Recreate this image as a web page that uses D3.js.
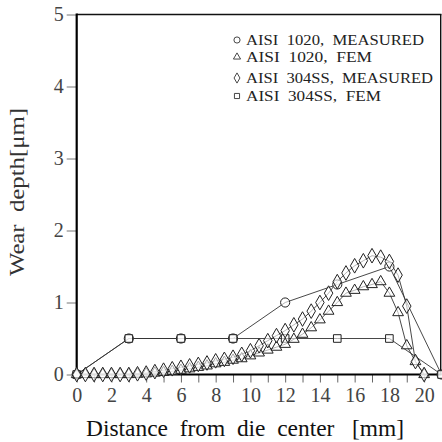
<!DOCTYPE html>
<html><head><meta charset="utf-8">
<script src="https://cdn.jsdelivr.net/npm/d3@7"></script>
<style>body{margin:0;background:#fff}svg{display:block}</style>
</head><body>
<script>
// ---- data ----
const xTicks = d3.range(0, 21, 1);
const xLabels = [0,2,4,6,8,10,12,14,16,18,20];
const yTicks = [0,1,2,3,4,5];

const sqX = [0,3,6,9,12,15,18,21];
const sqY = [0,0.5,0.5,0.5,0.5,0.5,0.5,0];

const ciX = [0,3,6,9,12,15,18,21];
const ciY = [0,0.5,0.5,0.5,1.0,1.25,1.5,0];

const fineX = [0,0.5,1,1.5,2,2.5,3,3.5,4,4.5,5,5.5,6,6.5,7,7.5,8,8.5,9,9.5,10,10.5,11,11.5,12,12.5,13,13.5,14,14.5,15,15.5,16,16.5,17,17.5,18,18.5,19,19.5,20];
const triY = [0,0,0,0,0,0,0,0.005,0.01,0.02,0.03,0.045,0.06,0.08,0.1,0.12,0.15,0.17,0.2,0.22,0.26,0.3,0.34,0.38,0.42,0.49,0.56,0.65,0.76,0.88,1.0,1.13,1.17,1.22,1.25,1.29,1.13,0.86,0.40,0.18,0];
const diaY = [0,0,0,0,0,0,0,0.01,0.02,0.04,0.06,0.08,0.1,0.12,0.14,0.16,0.19,0.21,0.24,0.28,0.33,0.4,0.47,0.54,0.61,0.69,0.77,0.88,1.0,1.13,1.29,1.41,1.51,1.58,1.65,1.63,1.57,1.38,0.95,0.18,0];

const legendLabels = ["AISI  1020,  MEASURED","AISI  1020,  FEM","AISI  304SS,  MEASURED","AISI  304SS,  FEM"];
const legendShapes = ["circle","triangle","diamond","square"];

// ---- chart ----
const W = 442, H = 442;
const svg = d3.select("body").append("svg").attr("width", W).attr("height", H);
const x = d3.scaleLinear().domain([0,21]).range([76.7, 441.5]);
const y = d3.scaleLinear().domain([0,5]).range([374.5, 14.5]);

const serif = "'Liberation Serif', 'Times New Roman', serif";

// frame top / right
svg.append("line").attr("x1", x(0)).attr("x2", x(21)).attr("y1", y(5)).attr("y2", y(5)).attr("stroke","#111").attr("stroke-width",1.6);
svg.append("line").attr("x1", x(21)-0.8).attr("x2", x(21)-0.8).attr("y1", y(5)).attr("y2", y(0)).attr("stroke","#111").attr("stroke-width",1.4);

// x axis
const xa = svg.append("g").attr("transform", `translate(0,${y(0)})`)
  .call(d3.axisBottom(x).tickValues(xTicks).tickSize(8).tickPadding(5)
    .tickFormat(d => xLabels.includes(d) ? d : ""));
xa.attr("font-family", null).attr("font-size", null);
xa.select(".domain").remove();
xa.selectAll(".tick line").attr("stroke","#666").attr("stroke-width",1);
xa.selectAll(".tick text").style("font-family", serif).style("font-size", "20px").attr("fill","#444");

// y axis
const ya = svg.append("g").attr("transform", `translate(${x(0)},0)`)
  .call(d3.axisLeft(y).tickValues(yTicks).tickSize(10).tickPadding(3).tickFormat(d3.format("d")));
ya.attr("font-family", null).attr("font-size", null);
ya.select(".domain").remove();
ya.selectAll(".tick line").attr("stroke","#777").attr("stroke-width",1);
ya.selectAll(".tick text").style("font-family", serif).style("font-size", "20px").attr("fill","#444");

// main axis lines
svg.append("line").attr("x1", x(0)).attr("x2", x(0)).attr("y1", y(5)-1).attr("y2", y(0)).attr("stroke","#000").attr("stroke-width",2.2);
svg.append("line").attr("x1", x(0)).attr("x2", x(21)).attr("y1", y(0)).attr("y2", y(0)).attr("stroke","#000").attr("stroke-width",2);

// shapes
const symType = {circle:d3.symbolCircle, triangle:d3.symbolTriangle, diamond:d3.symbolDiamond, square:d3.symbolSquare};
const sym = {
  circle: d3.symbol().type(d3.symbolCircle).size(66),
  triangle: d3.symbol().type(d3.symbolTriangle).size(50),
  diamond: d3.symbol().type(d3.symbolDiamond).size(62),
  square: d3.symbol().type(d3.symbolSquare).size(58)
};
const line = d3.line().x(d => x(d[0])).y(d => y(d[1]));

function series(xs, ys) {
  const pts = xs.map((v,i) => [v, ys[i]]);
  svg.append("path").datum(pts).attr("d", line).attr("fill","none").attr("stroke","#333").attr("stroke-width",0.9);
  return pts;
}
function markers(pts, shape) {
  svg.append("g").selectAll("path").data(pts).join("path")
    .attr("d", sym[shape]).attr("transform", d => `translate(${x(d[0])},${y(d[1])})`)
    .attr("fill","#fff").attr("fill-opacity",0.6).attr("stroke","#222").attr("stroke-width",1);
}
const pCi = series(ciX, ciY);
const pSq = series(sqX, sqY);
const pTr = series(fineX, triY);
const pDi = series(fineX, diaY);
markers(pCi, "circle");
markers(pSq, "square");
markers(pTr, "triangle");
markers(pDi, "diamond");

// legend
const legY = [40, 57, 78, 96];
const legW = [178, 126, 187, 135];
const lg = svg.append("g");
legendLabels.forEach((t, i) => {
  const sz = legendShapes[i] === "triangle" ? 22 : legendShapes[i] === "square" ? 26 : 30;
  lg.append("path").attr("d", d3.symbol().type(symType[legendShapes[i]]).size(sz)())
    .attr("transform", `translate(237,${legY[i]})`).attr("fill","none").attr("stroke","#333").attr("stroke-width",0.9);
  lg.append("text").attr("x", 246).attr("y", legY[i] + 5).text(t)
    .attr("textLength", legW[i]).attr("lengthAdjust","spacingAndGlyphs")
    .style("font-family", serif).style("font-size","15px").attr("fill","#222").style("white-space","pre");
});

// axis titles
svg.append("text").attr("transform", `translate(24,192) rotate(-90)`).attr("text-anchor","middle")
  .attr("textLength", 168).attr("lengthAdjust","spacingAndGlyphs")
  .style("font-family", serif).style("font-size","20px").attr("fill","#333").style("white-space","pre")
  .text("Wear  depth[\u03bcm]");
svg.append("text").attr("x", 245).attr("y", 436).attr("text-anchor","middle")
  .attr("textLength", 318).attr("lengthAdjust","spacingAndGlyphs")
  .style("font-family", serif).style("font-size","24px").attr("fill","#111").style("white-space","pre")
  .text("Distance  from  die  center   [mm]");
</script>
</body></html>
